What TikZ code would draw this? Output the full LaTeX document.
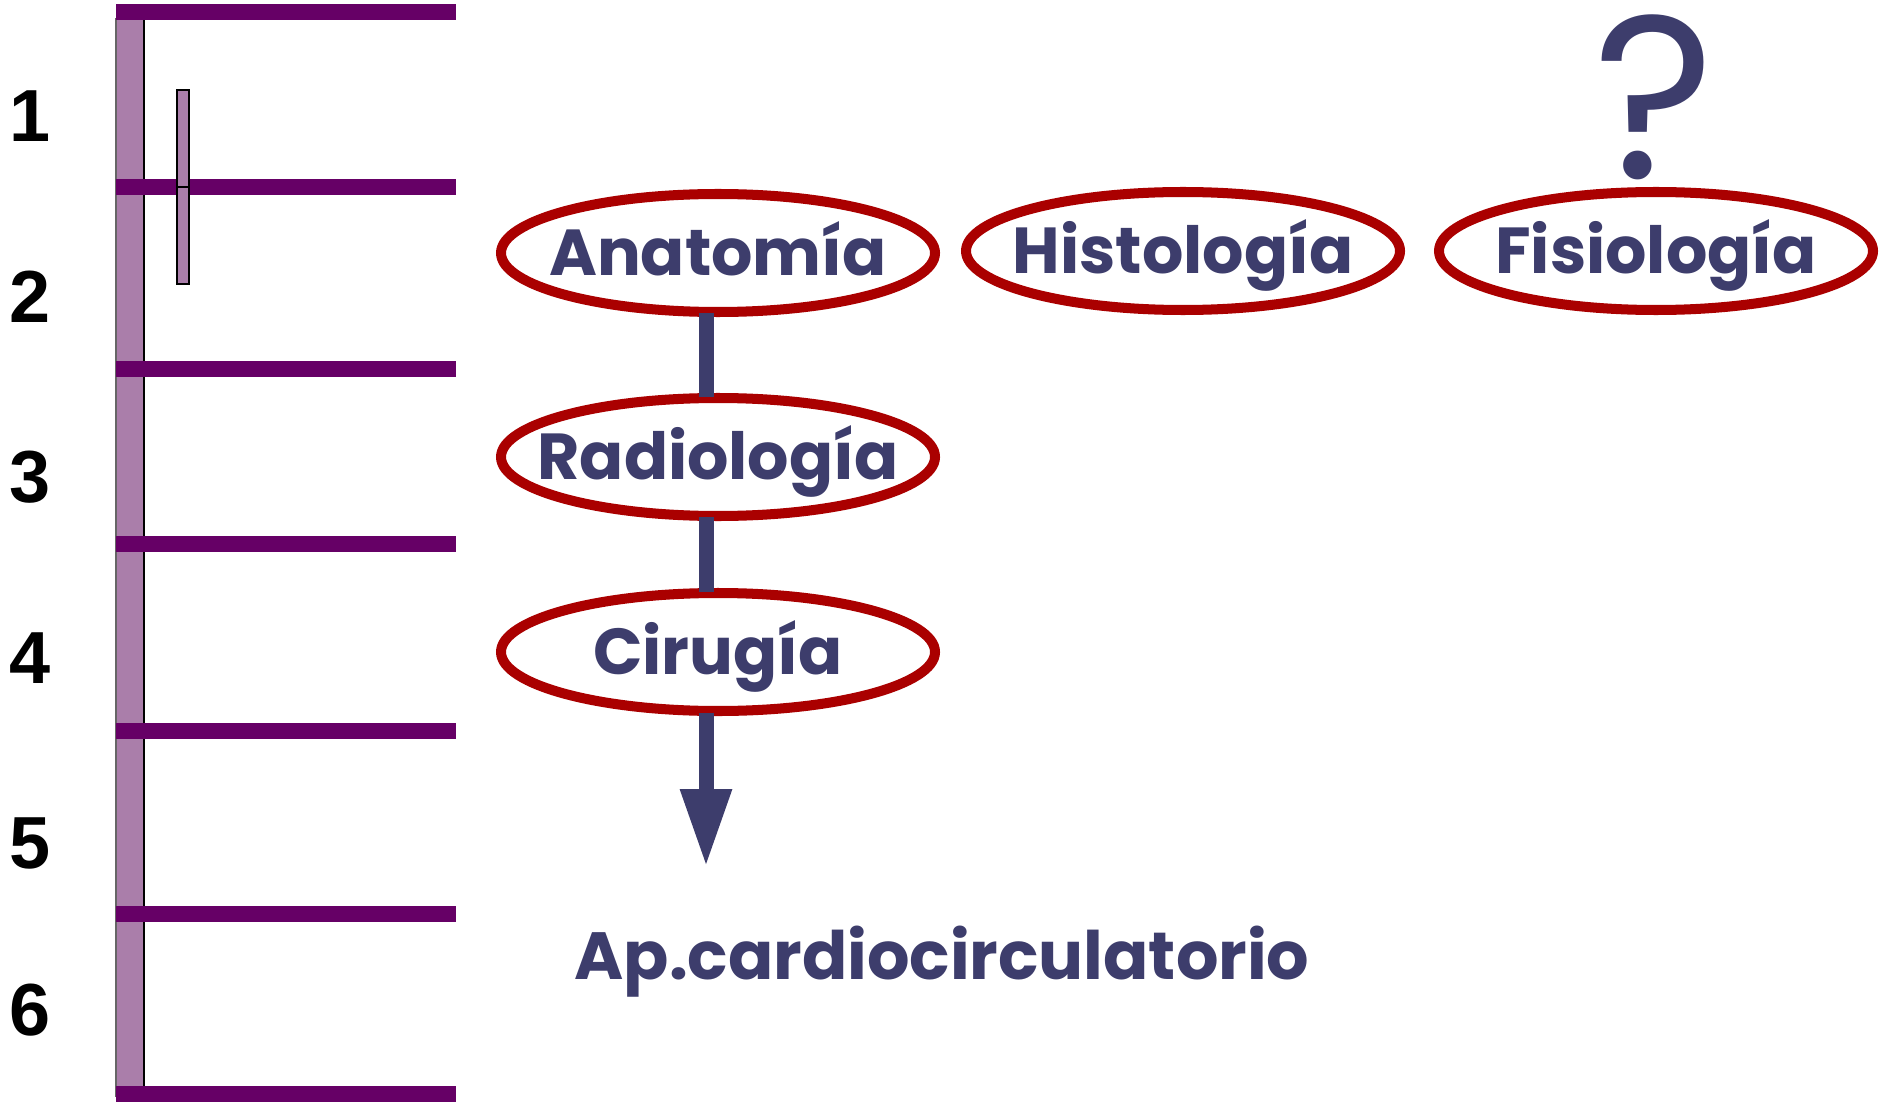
\documentclass[tikz,border=0pt]{standalone}
\usepackage{fontspec}
\setmainfont{Poppins}
\newfontfamily\numfont{Liberation Sans}
\usetikzlibrary{shapes.geometric,arrows.meta}
\definecolor{barpurple}{HTML}{660066}
\definecolor{colpurple}{HTML}{AA7EAA}
\definecolor{ovalred}{HTML}{AA0000}
\definecolor{inknavy}{HTML}{3D3D6C}
\tikzset{
  bar/.style={barpurple,line width=4.55pt},
  oval/.style={ellipse,draw=ovalred,line width=2.85pt,minimum width=4.34cm,minimum height=1.18cm,
    inner sep=0pt,text=inknavy,font=\bfseries\fontsize{18.5}{22}\selectfont,text height=13pt,text depth=0pt},
  num/.style={font=\numfont\bfseries\fontsize{21}{24}\selectfont},
  link/.style={inknavy,line width=4.27pt,shorten <=-1pt,shorten >=-1pt}
}
\begin{document}
\begin{tikzpicture}
    \useasboundingbox (0,0) rectangle (18.8,11.02);
    \fill[colpurple] (1.16,0.05) rectangle (1.44,10.84);
    \draw[black!60,line width=0.5pt] (1.16,0.05)--(1.16,10.84);
    \draw[black,line width=0.7pt] (1.44,0.05)--(1.44,10.84);
    \draw[bar] (1.16,10.90)--(4.56,10.90);
    \draw[bar] (1.16,9.15)--(4.56,9.15);
    \draw[bar] (1.16,7.33)--(4.56,7.33);
    \draw[bar] (1.16,5.58)--(4.56,5.58);
    \draw[bar] (1.16,3.71)--(4.56,3.71);
    \draw[bar] (1.16,1.88)--(4.56,1.88);
    \draw[bar] (1.16,0.08)--(4.56,0.08);
    \draw[fill=colpurple,line width=0.7pt] (1.77,9.15) rectangle (1.89,10.12);
    \draw[fill=colpurple,line width=0.7pt] (1.77,8.18) rectangle (1.89,9.15);
    \node[num] (n1) at (0.30,9.86) {1};
    \node[num] (n2) at (0.30,8.05) {2};
    \node[num] (n3) at (0.30,6.25) {3};
    \node[num] (n4) at (0.30,4.44) {4};
    \node[num] (n5) at (0.30,2.59) {5};
    \node[num] (n6) at (0.30,0.92) {6};
    \coordinate (tip) at (7.06,2.35);
    \node[oval] (anat) at (7.18,8.49) {\makebox[0pt]{Anatomía}};
    \node[oval] (hist) at (11.83,8.51) {\makebox[0pt]{Histología}};
    \node[oval] (fisio) at (16.56,8.51) {\makebox[0pt]{Fisiología}};
    \node[oval] (radio) at (7.18,6.45) {\makebox[0pt]{Radiología}};
    \node[oval] (ciru) at (7.18,4.50) {\makebox[0pt]{Cirugía}};
    \node[text=inknavy,inner sep=0pt,text depth=0pt,font=\fontsize{66}{66}\selectfont] (quest) at (16.54,10.05) {?};
    \node[text=inknavy,font=\bfseries\fontsize{19}{24}\selectfont] (ap) at (9.42,1.40) {Ap.cardiocirculatorio};
    \draw[link] (anat.south -| tip)--(radio.north -| tip);
    \draw[link] (radio.south -| tip)--(ciru.north -| tip);
    \draw[link,-{Triangle[width=0.48cm,length=0.78cm]},shorten >=0pt] (ciru.south -| tip)--(tip);
\end{tikzpicture}
\end{document}
